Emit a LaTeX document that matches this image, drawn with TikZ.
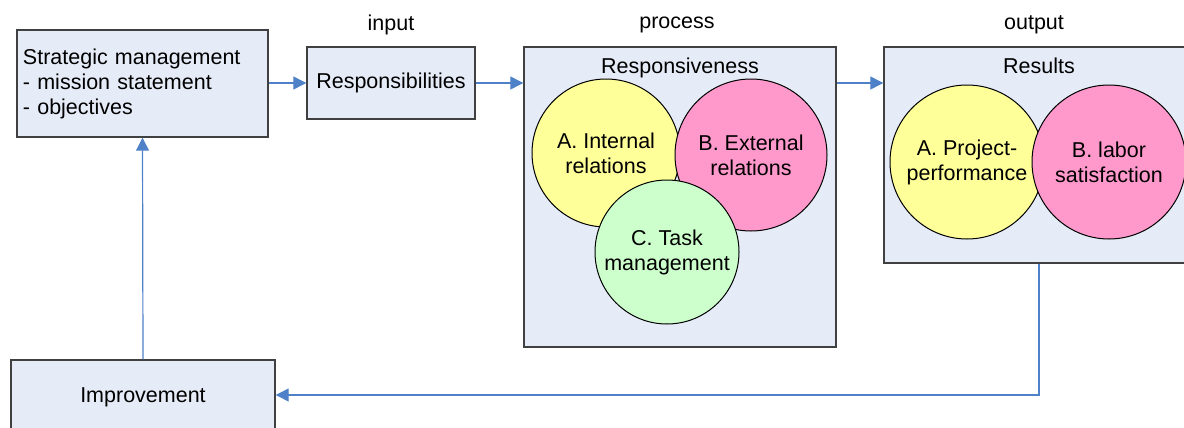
\documentclass[tikz,border=0pt]{standalone}
\usepackage{fontspec}
\setmainfont{Liberation Sans}
\usepackage{tikz}
\usetikzlibrary{positioning,calc,arrows.meta}
\definecolor{boxfill}{RGB}{230,236,247}
\definecolor{boxline}{RGB}{64,64,64}
\definecolor{flow}{RGB}{79,129,200}
\definecolor{yel}{RGB}{255,255,153}
\definecolor{pnk}{RGB}{255,153,204}
\definecolor{grn}{RGB}{204,255,204}

\begin{document}
\begin{tikzpicture}[x=0.5pt,y=-0.5pt,
		font=\fontsize{10.75pt}{12.5pt}\selectfont,
		blk/.style={draw=boxline,line width=0.7pt,fill=boxfill,inner sep=0pt},
		circ/.style={circle,draw=black,line width=0.5pt,inner sep=0pt,align=center},
		flw/.style={draw=flow,line width=0.6pt,-{Triangle[length=6.5pt,width=6.5pt]}}]
		\useasboundingbox (0,0) rectangle (1184,428);
		\clip (0,0) rectangle (1184,428);
		
		\node[blk,minimum width=125.5pt,minimum height=53.5pt,text width=119.5pt,align=left] (sm) at (142.5,83.5) {Strategic management\\- mission statement\\- objectives};
		
		\node[blk,minimum width=84pt,minimum height=36pt] (resp) at (391,83) {Responsibilities};
		
		\node[blk,minimum width=156pt,minimum height=150pt] (proc) at (680,197) {};
		\node[below=5.5pt of proc.north,inner sep=0pt] (pt) {Responsiveness};
		\node[circ,fill=yel,minimum size=74pt] (ca) at (606,153) {A. Internal\\relations};
		\node[circ,fill=pnk,minimum size=76pt] (cb) at (751,155) {B. External\\relations};
		\node[circ,fill=grn,minimum size=72pt] (cc) at (667,252) {C. Task\\management};
		
		\node[blk,minimum width=155pt,minimum height=108pt] (res) at (1039,155) {};
		\node[below=5.5pt of res.north,inner sep=0pt] (rt) {Results};
		\node[circ,fill=yel,minimum size=77pt] (ra) at (967,162) {A. Project-\\performance};
		\node[circ,fill=pnk,minimum size=77pt] (rb) at (1109,162) {B. labor\\satisfaction};
		
		\node[blk,minimum width=132pt,minimum height=37pt] (imp) at (143,397) {Improvement};
		
		\node[inner sep=0pt] (in) at (391,25) {input};
		\node[inner sep=0pt] (pr) at (677,25) {process};
		\node[inner sep=0pt] (out) at (1034,25) {output};
		
		\draw[flw] (sm.east |- resp) -- (resp.west);
		\draw[flw] (resp.east) -- (resp.east -| proc.west);
		\draw[flw] (resp.east -| proc.east) -- (resp.east -| res.west);
		\draw[flw] (res.south) |- ([yshift=1pt]imp.east);
		\draw[flw] (imp.north) -- (sm.south);
	\end{tikzpicture}
\end{document}
